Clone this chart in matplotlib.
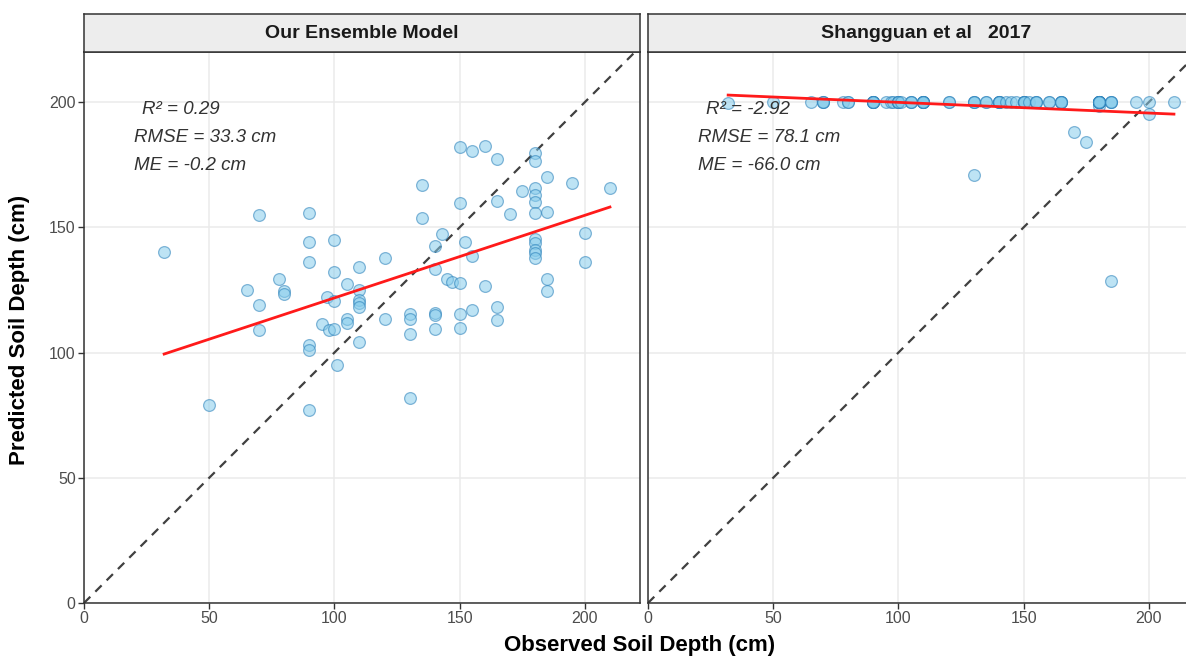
import matplotlib
matplotlib.use("Agg")
import matplotlib.pyplot as plt
import numpy as np

plt.rcParams["font.family"] = ["Liberation Sans", "DejaVu Sans"]

# observed depth, shared by both panels (cm)
observed = [32, 50, 65, 70, 70, 70, 78, 80, 80, 90, 90, 90, 90, 90, 90, 95, 97, 98,
            100, 100, 100, 100, 101, 105, 105, 105, 110, 110, 110, 110, 110, 110,
            120, 120, 130, 130, 130, 130, 135, 135, 140, 140, 140, 140, 140, 143, 145, 147,
            150, 150, 150, 150, 150, 152, 155, 155, 155, 160, 160, 165, 165, 165, 165,
            170, 175, 180, 180, 180, 180, 180, 180, 180, 180, 180, 180, 180,
            185, 185, 185, 185, 195, 200, 200, 210]
pred_ensemble = [140, 79, 125, 155, 119, 109, 129.5, 124.6, 123.2, 155.7, 144.1, 136, 103, 101, 77,
                 111.4, 122.2, 109.2, 144.9, 132, 120.4, 109.6, 95, 127.5, 113.2, 111.8,
                 134.3, 125, 121, 119.8, 118.2, 104.2, 137.7, 113.2, 115.4, 113.2, 107.6, 82,
                 167, 153.7, 142.5, 133.3, 115.8, 115, 109.4, 147.3, 129.2, 128.3,
                 182, 159.7, 127.9, 115.2, 109.8, 144.1, 180.4, 138.5, 116.8, 182.4, 126.5,
                 177.2, 160.5, 118.2, 113, 155.3, 164.5, 179.6, 176.4, 165.7, 162.9, 160.1,
                 155.7, 145.3, 143.7, 140.9, 139.7, 137.7, 170, 156.1, 129.3, 124.6,
                 167.7, 147.7, 136.1, 165.7]
pred_shangguan = [199.6, 200, 200, 200, 200, 200, 200, 200, 200, 200, 200, 200, 200, 200, 200,
                  200, 200, 200, 200, 200, 200, 200, 200, 200, 200, 200,
                  200, 200, 200, 200, 200, 200, 200, 200, 200, 200, 200, 171,
                  200, 200, 200, 200, 200, 200, 200, 200, 200, 200,
                  200, 200, 200, 200, 200, 200, 200, 200, 200, 200, 200,
                  200, 200, 200, 200, 188, 184, 200, 200, 200, 200, 198.4,
                  200, 200, 200, 200, 200, 200, 200, 200, 128.5, 200,
                  200, 195.2, 200, 200]

# fitted regression lines (end points)
fit_x = [32, 210]
fit_ensemble = [99.4, 158.1]
fit_shangguan = [202.8, 195.2]

titles = ["Our Ensemble Model", "Shangguan et al   2017"]
stats = [["R² = 0.29", "RMSE = 33.3 cm", "ME = -0.2 cm"],
         ["R² = -2.92", "RMSE = 78.1 cm", "ME = -66.0 cm"]]
ticks = [0, 50, 100, 150, 200]

W, H = 1186, 659
fig = plt.figure(figsize=(W / 100, H / 100), dpi=100)


def px_axes(x0, y0, x1, y1):
    return fig.add_axes([x0 / W, 1 - y1 / H, (x1 - x0) / W, (y1 - y0) / H])


BORDER = "#333333"
preds = [pred_ensemble, pred_shangguan]
fits = [fit_ensemble, fit_shangguan]

for i, x0 in enumerate([84, 648]):
    ax = px_axes(x0, 52, x0 + 556, 603)
    ax.set_xlim(0, 222)
    ax.set_ylim(0, 220)
    ax.set_xticks(ticks)
    ax.set_yticks(ticks)
    ax.grid(True, color="#EBEBEB", lw=1.1)
    ax.set_axisbelow(True)
    for s in ax.spines.values():
        s.set_color(BORDER)
        s.set_linewidth(1.1)
    ax.tick_params(colors=BORDER, length=4, width=1, labelsize=11.5,
                   labelcolor="#4D4D4D", pad=2)
    if i == 1:
        ax.tick_params(axis="y", left=False, labelleft=False)

    ax.axline((0, 0), slope=1, color="#404040", lw=1.6, ls=(0, (4, 3.2)), zorder=2)
    ax.scatter(observed, preds[i], s=72, facecolor=(0.53, 0.80, 0.92, 0.55),
               edgecolor=(0.16, 0.50, 0.73, 0.55), linewidth=0.9, zorder=3)
    ax.plot(fit_x, fits[i], color="#FF1A1A", lw=2, zorder=4)

    ax.text(23, 197.0, stats[i][0], style="italic", fontsize=13.5, color="#333333", va="center")
    ax.text(20, 185.8, stats[i][1], style="italic", fontsize=13.5, color="#333333", va="center")
    ax.text(20, 174.6, stats[i][2], style="italic", fontsize=13.5, color="#333333", va="center")

    st = px_axes(x0, 14, x0 + 556, 52)
    st.set_facecolor("#EDEDED")
    st.set_xticks([]); st.set_yticks([])
    for s in st.spines.values():
        s.set_color(BORDER)
        s.set_linewidth(1.1)
    st.text(0.5, 0.5, titles[i], ha="center", va="center", fontsize=14,
            weight="bold", color="#1A1A1A", transform=st.transAxes)

fig.text(640 / W, 1 - 645 / H, "Observed Soil Depth (cm)", ha="center", va="center",
         fontsize=16, weight="bold")
fig.text(20 / W, 1 - 330 / H, "Predicted Soil Depth (cm)", ha="center", va="center",
         fontsize=16, weight="bold", rotation=90)

fig.savefig("out.png", dpi=100, facecolor="white")
